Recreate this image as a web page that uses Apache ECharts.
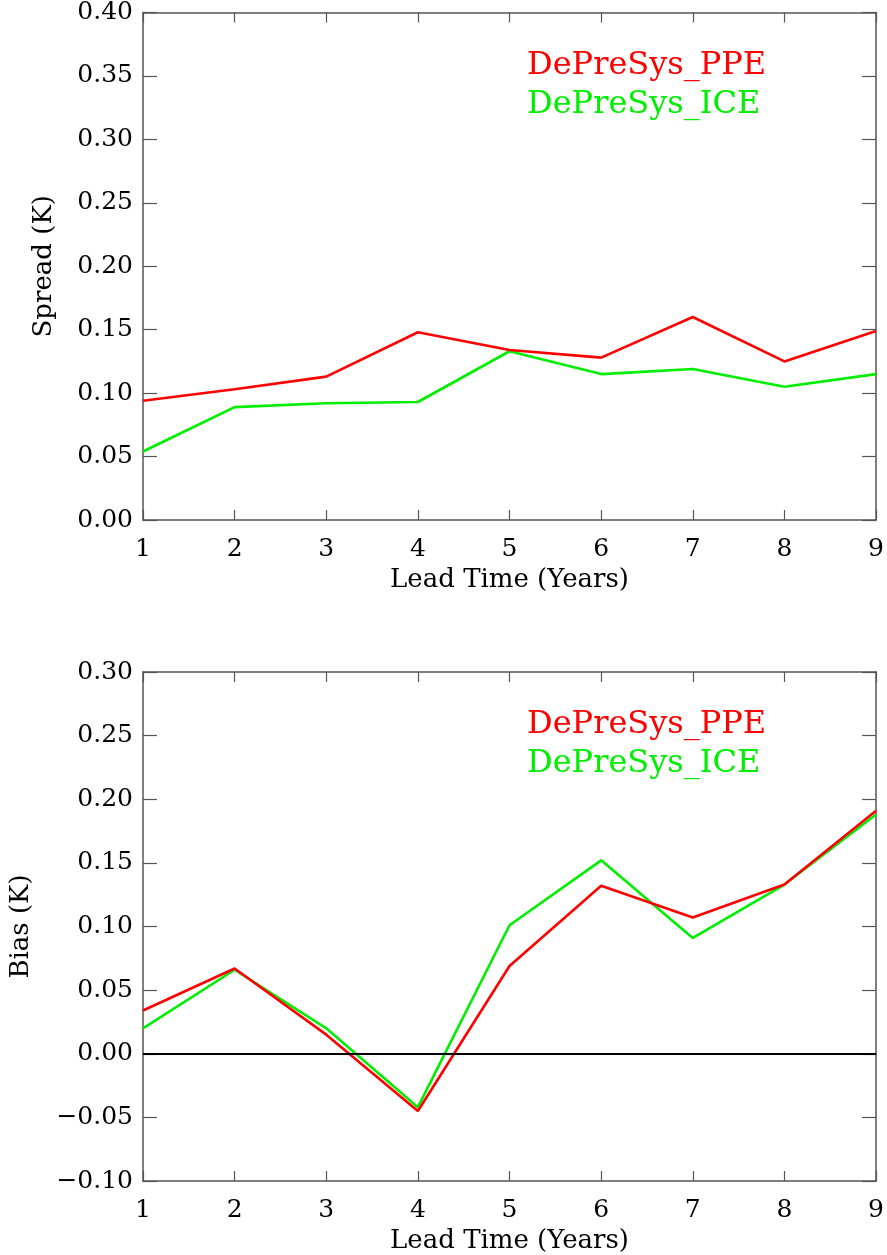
<!DOCTYPE html>
<html>
<head>
<meta charset="utf-8">
<style>
  html, body { margin: 0; padding: 0; background: #fff; }
  #chart { width: 887px; height: 1255px; }
</style>
<script src="https://cdn.jsdelivr.net/npm/echarts@6/dist/echarts.min.js"></script>
</head>
<body>
<div id="chart"></div>
<script>
// Lead times (years)
const leadTimes = [1, 2, 3, 4, 5, 6, 7, 8, 9];

// Ensemble spread (K)
const spreadPPE = [0.094, 0.103, 0.113, 0.148, 0.134, 0.128, 0.160, 0.125, 0.149];
const spreadICE = [0.054, 0.089, 0.092, 0.093, 0.133, 0.115, 0.119, 0.105, 0.115];

// Bias (K)
const biasPPE = [0.034, 0.067, 0.015, -0.045, 0.069, 0.132, 0.107, 0.133, 0.191];
const biasICE = [0.020, 0.066, 0.020, -0.042, 0.101, 0.152, 0.091, 0.133, 0.188];

const seriesNames = ['DePreSys_PPE', 'DePreSys_ICE'];
const seriesColors = ['#ff0000', '#00ee00'];

const FONT = 'DejaVu Serif';
const frameColor = '#555';

const pairs = (xs, ys) => xs.map((x, i) => [x, ys[i]]);
const fmt = v => v.toFixed(2).replace('-', '\u2212');

function xAxes(gridIndex) {
  const common = {
    type: 'value', gridIndex, min: 1, max: 9, interval: 1,
    splitLine: { show: false },
    axisLine: { show: true, onZero: false, lineStyle: { color: frameColor, width: 1.5 } },
    axisTick: { show: true, inside: true, length: 10, lineStyle: { color: frameColor, width: 1.2 } }
  };
  return [
    Object.assign({}, common, {
      position: 'bottom',
      name: 'Lead Time (Years)', nameLocation: 'middle', nameGap: 47,
      nameTextStyle: { fontFamily: FONT, fontSize: 26, color: '#000' },
      axisLabel: { fontFamily: FONT, fontSize: 25, color: '#000', margin: 17 }
    }),
    Object.assign({}, common, { position: 'top', axisLabel: { show: false } })
  ];
}

function yAxes(gridIndex, min, max, name, nameGap) {
  const common = {
    type: 'value', gridIndex, min, max, interval: 0.05,
    splitLine: { show: false },
    axisLine: { show: true, onZero: false, lineStyle: { color: frameColor, width: 1.5 } },
    axisTick: { show: true, inside: true, length: 14, lineStyle: { color: frameColor, width: 1.2 } }
  };
  return [
    Object.assign({}, common, {
      position: 'left',
      name, nameLocation: 'middle', nameGap, nameRotate: 90,
      nameTextStyle: { fontFamily: FONT, fontSize: 26, color: '#000' },
      axisLabel: { fontFamily: FONT, fontSize: 25, color: '#000', margin: 10, formatter: fmt }
    }),
    Object.assign({}, common, { position: 'right', axisLabel: { show: false } })
  ];
}

function lineSeries(name, color, xIdx, yIdx, values, extra) {
  return Object.assign({
    name, type: 'line', xAxisIndex: xIdx, yAxisIndex: yIdx,
    data: pairs(leadTimes, values),
    showSymbol: false, symbol: 'none', animation: false,
    lineStyle: { color, width: 2.6 }, itemStyle: { color }, z: 3
  }, extra || {});
}

function legendAt(top) {
  return {
    top, left: 517, orient: 'vertical', icon: 'none', itemGap: 7,
    itemWidth: 0, itemHeight: 0, selectedMode: false,
    textStyle: { fontFamily: FONT, fontSize: 32 },
    data: seriesNames.map((n, i) => ({ name: n, textStyle: { color: seriesColors[i] } }))
  };
}

const option = {
  backgroundColor: '#fff',
  animation: false,
  grid: [
    { left: 143, width: 734, top: 11, height: 509 },
    { left: 143, width: 734, top: 672, height: 509 }
  ],
  xAxis: [...xAxes(0), ...xAxes(1)],
  yAxis: [
    ...yAxes(0, 0, 0.40, 'Spread (K)', 86),
    ...yAxes(1, -0.10, 0.30, 'Bias (K)', 109)
  ],
  legend: [legendAt(45), legendAt(704)],
  series: [
    lineSeries(seriesNames[1], seriesColors[1], 0, 0, spreadICE),
    lineSeries(seriesNames[0], seriesColors[0], 0, 0, spreadPPE),
    lineSeries(seriesNames[1], seriesColors[1], 2, 2, biasICE, {
      markLine: {
        silent: true, symbol: 'none', label: { show: false },
        lineStyle: { color: '#000', width: 2, type: 'solid' },
        data: [{ yAxis: 0 }]
      }
    }),
    lineSeries(seriesNames[0], seriesColors[0], 2, 2, biasPPE)
  ]
};

const chart = echarts.init(document.getElementById('chart'), null, { renderer: 'canvas' });
chart.setOption(option);
</script>
</body>
</html>
